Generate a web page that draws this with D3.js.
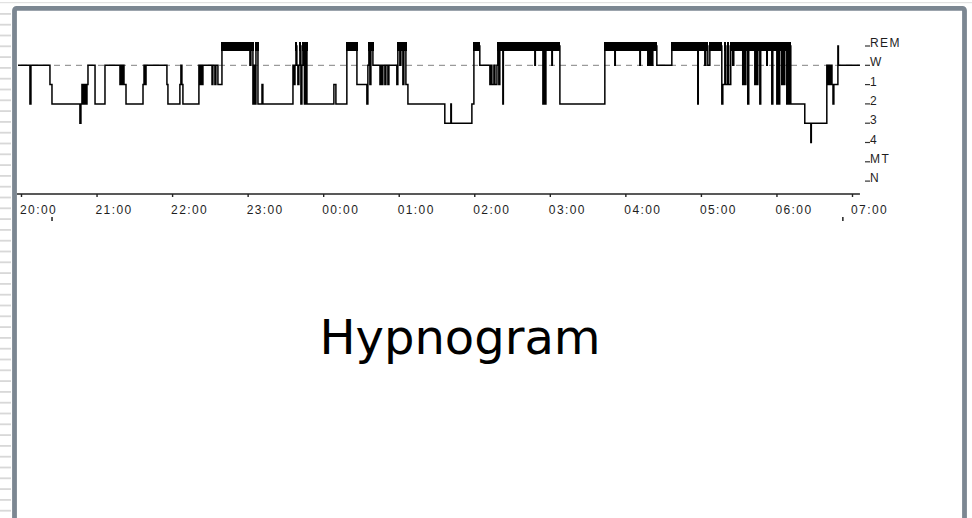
<!DOCTYPE html>
<html>
<head>
<meta charset="utf-8">
<script src="https://cdn.jsdelivr.net/npm/d3@7"></script>
<style>
    html, body { margin: 0; padding: 0; background: #fff; }
    svg { display: block; }
</style>
</head>
<body>
<svg id="chart" width="972" height="518"></svg>
<script>
const stages = ['REM', 'W', '1', '2', '3', '4', 'MT', 'N'];
const hourTicks = ['20:00', '21:00', '22:00', '23:00', '00:00', '01:00',
    '02:00', '03:00', '04:00', '05:00', '06:00', '07:00'];

// [minutes after 20:00, stage entered]
const transitions = [
    [-2.4, 'W'], [7.1, '2'], [7.9, 'W'], [23.0, '1'], [24.6, '2'], [46.8, '3'], [47.6, '2'],
    [48.4, '1'], [49.6, '2'], [50.4, '1'], [51.6, '2'], [52.4, '1'], [53.2, 'W'], [58.8, '2'],
    [66.7, 'W'], [78.6, '1'], [79.4, 'W'], [80.2, '1'], [81.0, 'W'], [81.8, '1'], [83.4, '2'],
    [96.9, '1'], [97.7, 'W'], [98.5, '1'], [99.3, 'W'], [115.9, '1'], [116.7, '2'], [126.2, '1'],
    [127.0, 'W'], [127.8, '1'], [128.6, '2'], [141.3, 'W'], [142.1, '1'], [142.9, 'W'], [143.7, '1'],
    [144.5, 'W'], [151.7, '1'], [152.4, 'W'], [154.0, '1'], [154.8, 'W'], [156.4, '1'], [159.6, 'REM'],
    [181.8, 'W'], [182.6, 'REM'], [184.2, '2'], [185.0, 'W'], [185.8, '2'], [186.6, 'REM'], [188.2, '2'],
    [191.4, '1'], [192.1, '2'], [216.0, 'W'], [216.8, '1'], [217.6, 'W'], [218.4, 'REM'], [219.1, 'W'],
    [219.9, '1'], [220.7, 'W'], [221.5, 'REM'], [222.3, '2'], [223.1, 'W'], [223.9, 'REM'], [225.1, '2'],
    [226.3, 'REM'], [227.1, '2'], [248.5, '1'], [250.1, '2'], [258.8, 'REM'], [266.8, '1'], [274.7, '2'],
    [275.5, 'W'], [276.3, 'REM'], [277.1, '1'], [277.9, 'REM'], [279.5, 'W'], [285.1, '1'], [285.9, 'W'],
    [286.7, '1'], [287.4, 'W'], [289.0, '1'], [289.8, 'W'], [291.4, '1'], [292.2, 'W'], [298.5, '1'],
    [299.3, 'REM'], [300.9, 'W'], [301.7, 'REM'], [303.3, '1'], [304.1, 'REM'], [305.7, '1'], [307.3, '2'],
    [336.6, '3'], [341.4, '2'], [341.8, '3'], [358.1, '2'], [359.7, 'REM'], [364.4, 'W'], [372.4, '1'],
    [373.2, 'W'], [374.0, '1'], [375.6, 'W'], [376.4, '1'], [378.0, 'W'], [378.7, 'REM'], [379.5, '1'],
    [380.3, 'REM'], [382.7, '2'], [383.1, 'REM'], [408.1, 'W'], [408.5, 'REM'], [414.5, '2'], [415.3, 'REM'],
    [416.1, '2'], [416.9, 'REM'], [421.6, 'W'], [422.0, 'REM'], [428.0, '2'], [463.7, 'REM'], [471.6, 'W'],
    [472.0, 'REM'], [491.5, 'W'], [491.9, 'REM'], [497.8, 'W'], [498.6, 'REM'], [499.4, 'W'], [500.2, 'REM'],
    [501.0, 'W'], [501.8, 'REM'], [505.0, 'W'], [516.9, 'REM'], [537.5, '2'], [537.9, 'REM'], [543.1, 'W'],
    [543.9, 'REM'], [545.5, 'W'], [547.1, 'REM'], [556.6, '2'], [557.4, '1'], [559.0, 'REM'], [559.8, '1'],
    [561.3, 'REM'], [562.1, '1'], [563.7, 'REM'], [565.3, 'W'], [566.1, 'REM'], [573.2, '1'], [574.0, 'REM'],
    [574.8, '1'], [575.7, 'REM'], [577.2, '2'], [578.0, 'REM'], [582.8, '1'], [583.6, 'REM'], [584.4, '1'],
    [585.2, 'REM'], [586.8, '2'], [587.5, 'REM'], [592.3, 'W'], [592.7, 'REM'], [596.3, '2'], [597.1, 'REM'],
    [600.3, '2'], [601.1, 'REM'], [601.9, '2'], [602.6, 'REM'], [604.2, '1'], [605.0, 'REM'], [605.8, '1'],
    [606.6, 'REM'], [608.2, '2'], [609.0, 'REM'], [609.8, '2'], [610.6, 'REM'], [611.4, '2'], [622.5, '3'],
    [627.3, '4'], [627.7, '3'], [640.0, 'W'], [640.8, '1'], [641.6, 'W'], [642.4, '1'], [643.3, 'W'],
    [644.1, '1'], [644.9, '2'], [645.6, '1'], [648.8, 'REM'], [649.2, 'W'],
];
const recordEnd = 666.3;
const lightMarks = [24.6, 652.7];
const title = 'Hypnogram';

const svg = d3.select('#chart');
const lblFont = '"Liberation Sans", Arial, sans-serif';

// slide backdrop
svg.append('rect').attr('x', 0).attr('y', 2).attr('width', 972).attr('height', 1.2).attr('fill', '#e2e2e2');
svg.selectAll('.rule').data(d3.range(13, 518, 10.8)).join('rect')
    .attr('class', 'rule')
    .attr('x', 0).attr('y', d => d).attr('width', 11).attr('height', 1.8)
    .attr('fill', '#d8d8d8');
svg.append('rect')
    .attr('x', 14.5).attr('y', 8.4).attr('width', 950).attr('height', 530)
    .attr('rx', 2)
    .attr('fill', '#fff')
    .attr('stroke', '#7c8792')
    .attr('stroke-width', 4.8);

const x = d3.scaleLinear().domain([0, 660]).range([21, 852]);
const y = d3.scalePoint().domain(stages).range([46, 181.1]);
const axisY = 194;
const remBar = 9;

// reference line at wake
svg.append('line')
    .attr('x1', x(0)).attr('x2', x(recordEnd))
    .attr('y1', y('W')).attr('y2', y('W'))
    .attr('stroke', '#9a9a9a').attr('stroke-width', 1.3)
    .attr('stroke-dasharray', '6,5');

// REM drawn as a thick bar
const segs = transitions.map((t, i) => ({
    start: t[0],
    end: i < transitions.length - 1 ? transitions[i + 1][0] : recordEnd,
    stage: t[1],
}));
const remPath = d3.path();
segs.filter(s => s.stage === 'REM' && s.end - s.start > 0.5).forEach(s => {
    remPath.rect(x(s.start) - 0.6, y('REM') - remBar / 2, x(s.end) - x(s.start) + 1.2, remBar);
});
svg.append('path')
    .attr('class', 'rem')
    .attr('d', remPath.toString())
    .attr('fill', '#000')
    .attr('shape-rendering', 'crispEdges');

const steps = transitions.concat([[recordEnd, transitions[transitions.length - 1][1]]]);
svg.append('path')
    .datum(steps)
    .attr('fill', 'none')
    .attr('stroke', '#000')
    .attr('stroke-width', 1.5)
    .attr('d', d3.line().x(d => x(d[0])).y(d => y(d[1])).curve(d3.curveStepAfter));

// time axis
const xAxis = d3.axisBottom(x)
    .tickValues(hourTicks.map((_, i) => i * 60))
    .tickFormat((d, i) => hourTicks[i])
    .tickSize(3);
const gx = svg.append('g').attr('transform', `translate(0,${axisY})`).call(xAxis);
gx.select('.domain').attr('d', `M17,0H${x(recordEnd)}`).attr('stroke', '#222').attr('stroke-width', 1.6);
gx.selectAll('.tick line').attr('stroke', '#222').attr('stroke-width', 1.4);
gx.selectAll('.tick text')
    .attr('x', -1.5).attr('y', 20).attr('dy', 0)
    .attr('text-anchor', 'start')
    .attr('font-family', lblFont).attr('font-size', 12)
    .attr('letter-spacing', 1.4)
    .attr('fill', '#1e1e1e');

svg.selectAll('.mark').data(lightMarks).join('rect')
    .attr('class', 'mark')
    .attr('x', d => x(d) - 0.7).attr('y', 217).attr('width', 1.5).attr('height', 4)
    .attr('fill', '#222');

// stage labels
const gy = svg.append('g');
gy.selectAll('line').data(stages).join('line')
    .attr('x1', 865).attr('x2', 870)
    .attr('y1', d => y(d)).attr('y2', d => y(d))
    .attr('stroke', '#333').attr('stroke-width', 1.2);
gy.selectAll('text').data(stages).join('text')
    .attr('x', 870).attr('y', d => y(d) + 1)
    .attr('font-family', lblFont).attr('font-size', 12)
    .attr('letter-spacing', 1.4)
    .attr('fill', '#1e1e1e')
    .text(d => d);

svg.append('text')
    .attr('x', 460).attr('y', 354)
    .attr('text-anchor', 'middle')
    .attr('font-family', '"DejaVu Sans", Verdana, sans-serif')
    .attr('font-size', 48)
    .attr('fill', '#000')
    .text(title);
</script>
</body>
</html>
